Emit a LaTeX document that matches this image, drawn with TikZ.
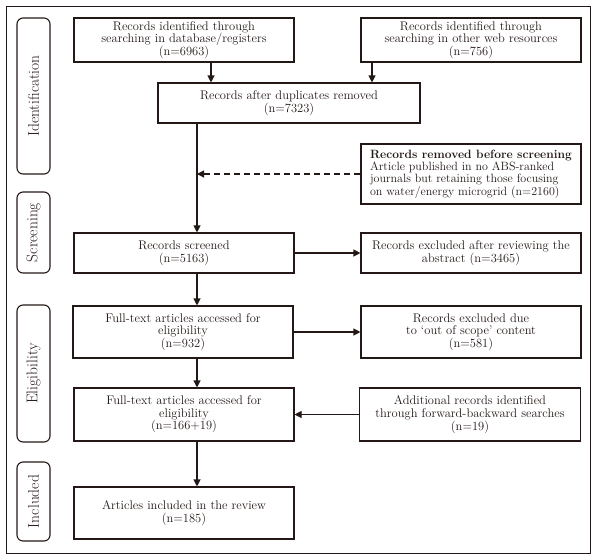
\documentclass[tikz,border=0pt]{standalone}
\usetikzlibrary{arrows.meta}
\definecolor{ink}{HTML}{231815}
\begin{document}
\begin{tikzpicture}[x=1pt,y=1pt,
  every node/.style={text=ink},
  box/.style={draw=ink,line width=1.1pt,inner sep=1pt,align=center,font=\fontsize{12.5}{12.6}\selectfont},
  side/.style={draw=ink,line width=1.1pt,rounded corners=6pt,minimum width=33pt,inner sep=0pt},
  sidetext/.style={rotate=90,font=\fontsize{15.5}{16}\selectfont},
  arr/.style={draw=ink,line width=1.1pt,-{Triangle[length=7pt,width=7pt]}}]
\useasboundingbox (0,0) rectangle (595,-558);
\draw[draw=ink,line width=0.9pt] (6,-6) rectangle (590,-553);
% side labels
\node[side,minimum height=156pt] (sid) at (33.5,-96) {};
\node[sidetext] (sidt) at (sid.center) {Identification};
\node[side,minimum height=81pt] (ssc) at (33.5,-232.5) {};
\node[sidetext] (ssct) at (ssc.center) {Screening};
\node[side,minimum height=137pt] (sel) at (33.5,-373.5) {};
\node[sidetext] (selt) at (sel.center) {Eligibility};
\node[side,minimum height=79pt] (sin) at (33.5,-501.5) {};
\node[sidetext] (sint) at (sin.center) {Included};
% boxes
\node[box,minimum width=220pt,minimum height=44pt] (db) at (184,-40) {Records identified through\\searching in database/registers\\(n=6963)};
\node[box,minimum width=220pt,minimum height=44pt] (web) at (471,-40) {Records identified through\\searching in other web resources\\(n=756)};
\node[box,minimum width=262pt,minimum height=40pt] (dup) at (289,-103) {Records after duplicates removed\\(n=7323)};
\node[box,minimum width=220pt,minimum height=60pt,align=left,font=\fontsize{12}{12.3}\selectfont] (rem) at (471,-174) {\textbf{Records removed before screening}\\Article published in no ABS-ranked\\journals but retaining those focusing\\on water/energy microgrid (n=2160)};
\node[box,minimum width=220pt,minimum height=40pt] (scr) at (184,-253) {Records screened\\(n=5163)};
\node[box,minimum width=220pt,minimum height=40pt] (exa) at (471,-253) {Records excluded after reviewing the\\abstract (n=3465)};
\node[box,minimum width=220pt,minimum height=52pt] (fta) at (183,-332) {Full-text articles accessed for\\eligibility\\(n=932)};
\node[box,minimum width=220pt,minimum height=52pt] (exb) at (471,-332) {Records excluded due\\to `out of scope' content\\(n=581)};
\node[box,minimum width=220pt,minimum height=53pt] (ftb) at (184,-414.5) {Full-text articles accessed for\\eligibility\\(n=166+19)};
\node[box,minimum width=221pt,minimum height=53pt] (add) at (470,-414.5) {Additional records identified\\through forward-backward searches\\(n=19)};
\node[box,minimum width=220pt,minimum height=52pt] (inc) at (184,-513) {Articles included in the review\\(n=185)};
% connector anchor points
\coordinate (cdb) at ([xshift=27pt]db.south);
\coordinate (cweb) at ([xshift=-99pt]web.south);
\coordinate (cdup) at ([xshift=-92pt]dup.south);
\coordinate (cscr) at ([xshift=13pt]scr.south);
\coordinate (cfta) at ([xshift=14pt]fta.south);
\coordinate (cftb) at ([xshift=13pt]ftb.south);
% connectors
\draw[arr] (cdb) -- (cdb |- dup.north);
\draw[arr] (cweb) -- (cweb |- dup.north);
\draw[arr] (cdup) -- (cdup |- scr.north);
\draw[arr,dash pattern=on 6pt off 4pt] (rem.west) -- (rem.west -| cdup);
\draw[arr] (scr.east) -- (exa.west);
\draw[arr] (fta.east) -- (exb.west);
\draw[arr] (cscr) -- (cscr |- fta.north);
\draw[arr] (cfta) -- (cfta |- ftb.north);
\draw[arr] (add.west) -- (ftb.east);
\draw[arr] (cftb) -- (cftb |- inc.north);
\end{tikzpicture}
\end{document}
